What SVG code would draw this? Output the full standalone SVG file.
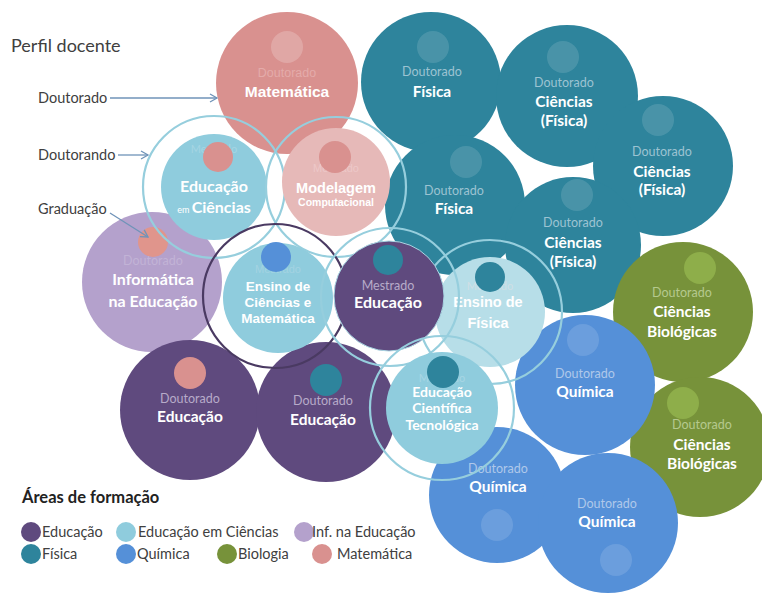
<svg xmlns="http://www.w3.org/2000/svg" width="762" height="593" viewBox="0 0 762 593">
<defs>
<marker id="arr" markerWidth="10" markerHeight="10" refX="8" refY="5" orient="auto" markerUnits="userSpaceOnUse"><path d="M1,1 L8,5 L1,9" fill="none" stroke="#6F93B8" stroke-width="1.3"/></marker>
</defs>
<style>
text{font-family:Lato,"Liberation Sans",sans-serif}
.lbl{font-size:14.5px;fill:#404040}
.t{font-size:15.5px;font-weight:bold;fill:#fff;text-anchor:middle}
.s{font-size:12.5px;text-anchor:middle}
.ar{font-family:"Liberation Sans",Arial,sans-serif}
.ring{fill:none;stroke:#96CEDD;stroke-width:2.2}
.edge{stroke:#A9D6E3;stroke-width:1}
.edu{fill:#5F4A7E}.ec{fill:#8FCCDD}.inf{fill:#B4A1CC}.fis{fill:#2E849C}.qui{fill:#5590D8}.bio{fill:#77923A}.mat{fill:#D9918F}
.hl{fill:#fff;fill-opacity:0.13}
.dfis{fill:#9CC3D2}.dqui{fill:#AFC8EA}.dbio{fill:#B5C98E}.dedu{fill:#B7ABC9}
.con{stroke:#6F93B8;stroke-width:1.3;fill:none;marker-end:url(#arr)}
</style>
<rect width="762" height="593" fill="#fff"/>

<text x="11" y="52" style="font-size:18px;fill:#404040">Perfil docente</text>
<text x="38" y="103" class="lbl">Doutorado</text>
<text x="38" y="160" class="lbl">Doutorando</text>
<text x="38" y="214" class="lbl">Graduação</text>

<g id="n-mat"><circle cx="287" cy="83" r="71" class="mat"/><circle cx="287" cy="47" r="16" class="hl" style="fill-opacity:0.2"/>
<text x="287" y="77" class="s ar" style="fill:#E4ABAA">Doutorado</text><text x="287" y="97" class="t ar" style="font-size:15.5px">Matemática</text></g>

<g id="n-fis1"><circle cx="431" cy="82" r="70" class="fis"/><circle cx="433" cy="47" r="16" class="hl"/>
<text x="432" y="76" class="s dfis">Doutorado</text><text x="432" y="97" class="t">Física</text></g>

<g id="n-cf1"><circle cx="567" cy="96" r="71" class="fis"/><circle cx="563" cy="57" r="16" class="hl"/>
<text x="564" y="87" class="s dfis">Doutorado</text><text x="564" y="107" class="t">Ciências</text><text x="564" y="126" class="t">(Física)</text></g>

<g id="n-cf2"><circle cx="663" cy="166" r="70" class="fis"/><circle cx="658" cy="120" r="16" class="hl"/>
<text x="662" y="156" class="s dfis">Doutorado</text><text x="662" y="177" class="t">Ciências</text><text x="662" y="195" class="t">(Física)</text></g>

<g id="n-fis2"><circle cx="455" cy="205" r="70" class="fis"/><circle cx="466" cy="162" r="16" class="hl"/>
<text x="454" y="195" class="s dfis">Doutorado</text><text x="454" y="214" class="t">Física</text></g>

<g id="n-cf3"><circle cx="573" cy="245" r="68" class="fis"/><circle cx="577" cy="195" r="16" class="hl"/>
<text x="573" y="227" class="s dfis">Doutorado</text><text x="573" y="248" class="t">Ciências</text><text x="573" y="267" class="t">(Física)</text></g>

<g id="n-bio1"><circle cx="683" cy="312" r="70" class="bio"/><circle cx="700" cy="268" r="16" fill="#8EAE4A"/>
<text x="682" y="297" class="s dbio">Doutorado</text><text x="682" y="317" class="t">Ciências</text><text x="682" y="337" class="t">Biológicas</text></g>

<g id="n-bio2"><circle cx="700" cy="447" r="70" class="bio"/><circle cx="683" cy="403" r="16" fill="#8EAE4A"/>
<text x="702" y="429" class="s dbio">Doutorado</text><text x="702" y="450" class="t">Ciências</text><text x="702" y="469" class="t">Biológicas</text></g>

<g id="n-qui1"><circle cx="585" cy="385" r="70" class="qui"/><circle cx="583" cy="340" r="16" class="hl"/>
<text x="585" y="378" class="s dqui">Doutorado</text><text x="585" y="397" class="t">Química</text></g>

<g id="n-qui2"><circle cx="497" cy="495" r="68" class="qui"/><circle cx="497" cy="525" r="16" class="hl"/>
<text x="498" y="473" class="s dqui">Doutorado</text><text x="498" y="492" class="t">Química</text></g>

<g id="n-qui3"><circle cx="608" cy="523" r="70" class="qui"/><circle cx="616" cy="560" r="16" class="hl"/>
<text x="607" y="508" class="s dqui">Doutorado</text><text x="607" y="527" class="t">Química</text></g>

<g id="n-inf"><circle cx="152" cy="282" r="70" class="inf"/><circle cx="153" cy="242" r="15" fill="#E0958C"/>
<text x="153" y="265" class="s" style="fill:#C2B3D6">Doutorado</text><text x="153" y="285" class="t" style="font-size:16px">Informática</text><text x="153" y="307" class="t" style="font-size:16px">na Educação</text></g>

<g id="n-edu1"><circle cx="190" cy="410" r="70" class="edu"/><circle cx="190" cy="373" r="16" class="mat"/>
<text x="190" y="403" class="s dedu">Doutorado</text><text x="190" y="422" class="t">Educação</text></g>

<g id="n-edu2"><circle cx="326" cy="412" r="70" class="edu"/><circle cx="326" cy="380" r="16" class="fis"/>
<text x="323" y="405" class="s dedu">Doutorado</text><text x="323" y="425" class="t">Educação</text></g>

<g id="n-ec"><circle cx="214" cy="187" r="53" class="ec"/>
<text x="214" y="153" class="s" style="fill:#A5D5E3;font-size:11px">Mestrado</text><circle cx="218" cy="157" r="15" class="mat"/>
<text x="214" y="192" class="t" style="font-size:16px">Educação</text><text x="214" y="213" class="t" style="font-size:16px"><tspan style="font-size:9px;font-weight:normal">em </tspan>Ciências</text>
<circle cx="214" cy="187" r="71" class="ring"/></g>

<g id="n-mod"><circle cx="336" cy="182" r="54" fill="#E6B9B8"/>
<text x="336" y="172" class="s ar" style="fill:#EDC8C8;font-size:11px">Mestrado</text><circle cx="335" cy="157" r="16" class="mat"/>
<text x="336" y="193" class="t ar" style="font-size:14.5px">Modelagem</text><text x="336" y="206" class="t ar" style="font-size:10.5px">Computacional</text>
<circle cx="336" cy="187" r="70" class="ring"/></g>

<g id="n-ensc"><circle cx="278" cy="298" r="55" class="ec"/>
<text x="278" y="273" class="s ar" style="fill:#A3D3E2;font-size:11px">Mestrado</text><circle cx="276" cy="257" r="15" class="qui"/>
<text x="278" y="291" class="t ar" style="font-size:13.5px">Ensino de</text><text x="278" y="307" class="t ar" style="font-size:13.5px">Ciências e</text><text x="278" y="323" class="t ar" style="font-size:13.5px">Matemática</text>
<circle cx="275" cy="296" r="72" class="ring" style="stroke:#4A3A62"/></g>

<g id="n-ensf"><circle cx="490" cy="312" r="55" fill="#B7DEE8"/>
<text x="490" y="290" class="s" style="fill:#CFDFE5;font-size:11px">Mestrado</text><circle cx="490" cy="277" r="15" class="fis"/>
<text x="488" y="307" class="t ar" style="font-size:14.5px">Ensino de</text><text x="488" y="328" class="t ar" style="font-size:14.5px">Física</text>
<circle cx="490" cy="312" r="72" class="ring"/></g>

<g id="n-medu"><circle cx="389" cy="296" r="55" class="edu edge"/><circle cx="388" cy="260" r="15" class="fis"/>
<text x="388" y="290" class="s dedu">Mestrado</text><text x="388" y="308" class="t" style="font-size:16px">Educação</text>
<circle cx="390" cy="297" r="69" class="ring"/></g>

<g id="n-ect"><circle cx="442" cy="408" r="56" class="ec"/>
<text x="442" y="382" class="s" style="fill:#A7D6E4;font-size:11px">Mestrado</text><circle cx="443" cy="372" r="16" class="fis"/>
<text x="442" y="397" class="t" style="font-size:14px">Educação</text><text x="442" y="413" class="t" style="font-size:14px">Científica</text><text x="442" y="430" class="t" style="font-size:14px">Tecnológica</text>
<circle cx="442" cy="408" r="72" class="ring"/></g>

<g id="connectors">
<path d="M110,98 L217,98" class="con"/>
<path d="M118,155 L148,155" class="con"/>
<path d="M110,213 L148,237" class="con"/>
</g>

<g id="legend">
<text x="22" y="503" style="font-size:16.5px;font-weight:bold;fill:#222">Áreas de formação</text>
<circle cx="31" cy="532" r="10" class="edu"/><text x="42" y="537" class="lbl">Educação</text>
<circle cx="126" cy="532" r="10" class="ec"/><text x="138" y="537" class="lbl">Educação em Ciências</text>
<circle cx="304" cy="532" r="10" class="inf"/><text x="312" y="537" class="lbl">Inf. na Educação</text>
<circle cx="31" cy="554" r="10" class="fis"/><text x="42" y="559" class="lbl">Física</text>
<circle cx="126" cy="554" r="10" class="qui"/><text x="137" y="559" class="lbl">Química</text>
<circle cx="227" cy="554" r="10" class="bio"/><text x="238" y="559" class="lbl">Biologia</text>
<circle cx="322" cy="554" r="10" class="mat"/><text x="337" y="559" class="lbl">Matemática</text>
</g>
</svg>
